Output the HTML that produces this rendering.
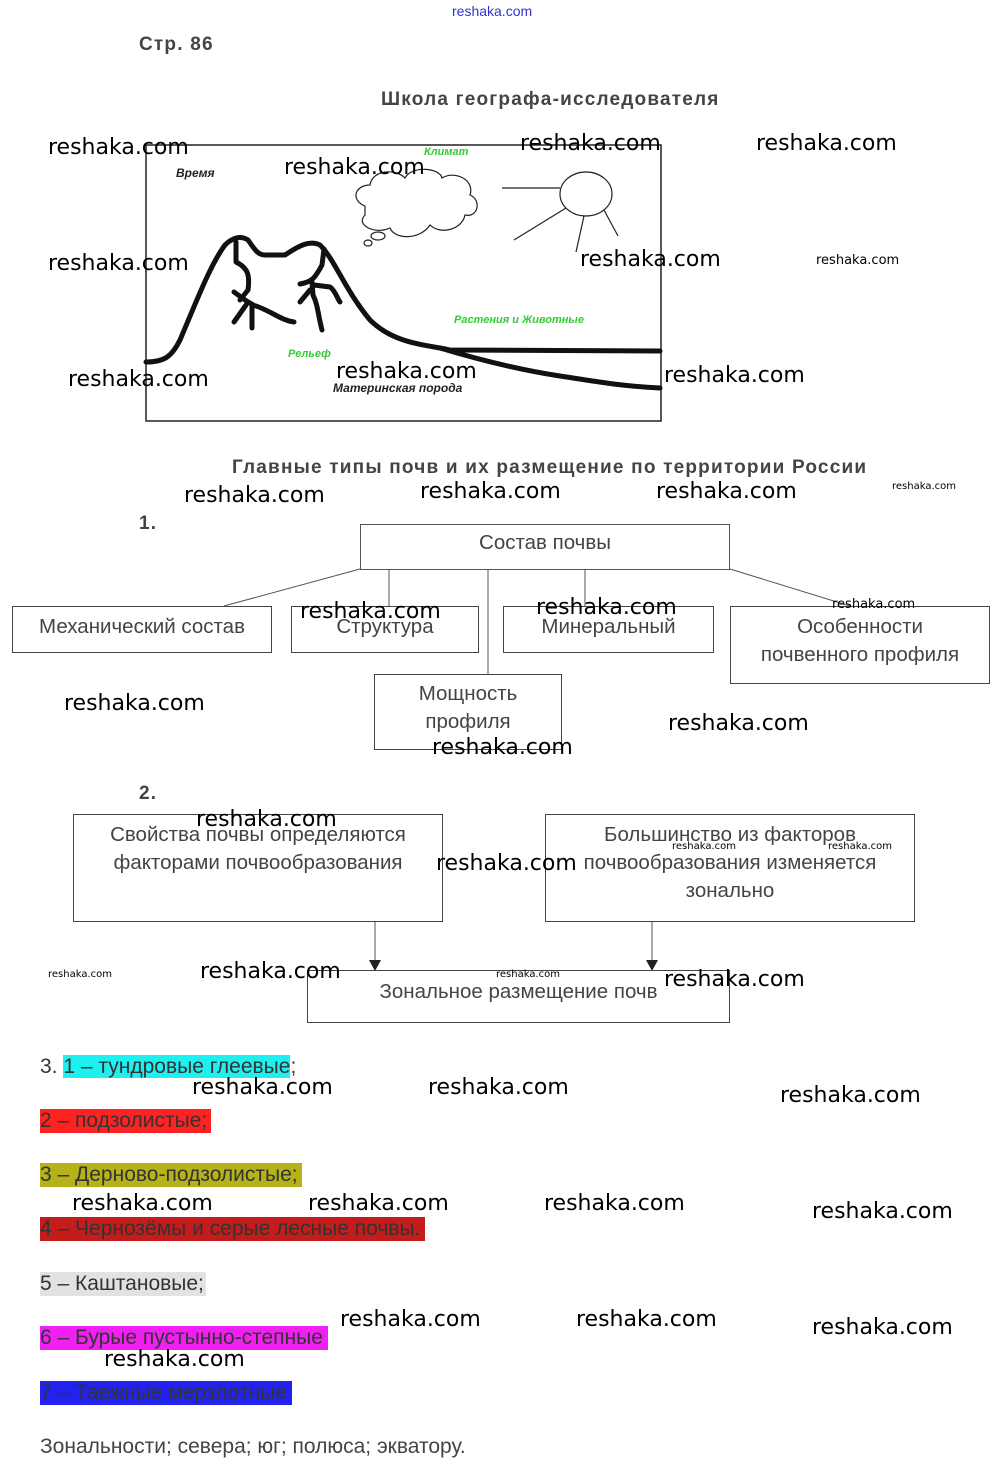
<!DOCTYPE html>
<html><head><meta charset="utf-8"><style>
body{margin:0;background:#fff;}
#p{position:relative;width:1000px;height:1474px;overflow:hidden;font-family:"Liberation Sans","DejaVu Sans",sans-serif;color:#333;}
.a{position:absolute;white-space:nowrap;}
.t{position:absolute;white-space:nowrap;font-size:19px;font-weight:bold;color:#444;letter-spacing:1.2px;}
.w{position:absolute;white-space:nowrap;font-family:"DejaVu Sans","Liberation Sans",sans-serif;font-size:22px;color:#000;line-height:26px;}
.ws{position:absolute;white-space:nowrap;font-family:"DejaVu Sans",sans-serif;font-size:13px;color:#000;line-height:14px;}
.wt{position:absolute;white-space:nowrap;font-family:"DejaVu Sans",sans-serif;font-size:10px;color:#000;line-height:12px;}
.b{position:absolute;border:1px solid #444;box-sizing:border-box;text-align:center;font-size:20.5px;color:#444;line-height:28px;white-space:nowrap;}
.h{position:absolute;font-size:21px;line-height:24px;height:24px;white-space:nowrap;color:#333;}
.g{color:#3c3;font-style:italic;font-weight:bold;font-size:11px;position:absolute;white-space:nowrap;}
.k{color:#222;font-style:italic;font-weight:bold;font-size:12px;position:absolute;white-space:nowrap;}
</style></head><body><div id="p">
<div class="a" style="left:452px;top:3px;font-size:14px;color:#33c;">reshaka.com</div>
<div class="t" style="left:139px;top:34px;">Стр. 86</div>
<div class="t" style="left:381px;top:89px;">Школа географа-исследователя</div>

<svg style="position:absolute;left:0;top:0" width="1000" height="1474">
<rect x="146" y="145" width="515" height="276" fill="none" stroke="#222" stroke-width="1.5"/>
<g fill="none" stroke="#111" stroke-width="5" stroke-linecap="round" stroke-linejoin="round">
<path d="M146,362 C165,362 172,356 180,340 C195,305 210,265 225,245 C232,238 240,235 248,240 C255,250 258,255 265,255 L285,255 C300,245 310,240 320,245 C335,260 345,290 370,320 C395,345 430,345 450,350 L660,351"/>
<path d="M440,348 C480,360 520,370 560,376 C600,382 620,386 660,388"/>
<path d="M236,242 L236,262 C248,268 250,275 248,290 L240,300 M234,292 L245,300 L253,305 C270,310 280,320 294,322 M252,304 L252,328 M246,305 L234,322"/>
<path d="M324,249 L322,265 C315,278 312,282 300,284 M312,282 L313,295 C318,305 318,315 322,330 M310,290 L300,302 M314,285 L330,287 C335,290 338,300 340,302"/>
</g>
<g fill="none" stroke="#222" stroke-width="1.2">
<path d="M365,206 C350,200 355,185 370,185 C372,170 395,168 405,178 C412,165 440,168 442,178 C455,170 475,180 470,195 C482,200 478,218 465,215 C462,230 440,235 430,225 C420,240 395,240 390,228 C375,235 355,225 365,215 Z"/>
<ellipse cx="378" cy="236" rx="7" ry="4"/><ellipse cx="368" cy="243" rx="4" ry="3"/>
<ellipse cx="586" cy="194" rx="26" ry="22"/>
<path d="M560,188 L502,188 M566,208 L514,240 M584,216 L576,252 M604,210 L618,236"/>
</g>
<g stroke="#555" stroke-width="1" fill="none">
<rect x="360.5" y="524.5" width="369" height="45"/>
<path d="M360,569 L224,606 M389,569 L389,606 M488,569 L488,674 M585,569 L585,606 M730,569 L850,606"/>
<path d="M375,922 L375,962 M652,922 L652,962"/>
</g>
<path d="M369,960 L381,960 L375,971 Z M646,960 L658,960 L652,971 Z" fill="#222"/>
</svg>

<div class="k" style="left:176px;top:166px;">Время</div>
<div class="g" style="left:424px;top:146px;">Климат</div>
<div class="g" style="left:454px;top:314px;">Растения и Животные</div>
<div class="g" style="left:288px;top:348px;">Рельеф</div>
<div class="k" style="left:333px;top:381px;">Материнская порода</div>

<div class="t" style="left:232px;top:457px;">Главные типы почв и их размещение по территории России</div>
<div class="t" style="left:139px;top:513px;">1.</div>
<div class="b" style="left:360px;top:524px;width:370px;height:46px;line-height:38px;border:none;">Состав почвы</div>
<div class="b" style="left:12px;top:606px;width:260px;height:47px;line-height:40px;">Механический состав</div>
<div class="b" style="left:291px;top:606px;width:188px;height:47px;line-height:40px;">Структура</div>
<div class="b" style="left:503px;top:606px;width:211px;height:47px;line-height:40px;">Минеральный</div>
<div class="b" style="left:730px;top:606px;width:260px;height:78px;padding-top:6px;">Особенности<br>почвенного профиля</div>
<div class="b" style="left:374px;top:674px;width:188px;height:76px;padding-top:5px;">Мощность<br>профиля</div>

<div class="t" style="left:139px;top:783px;">2.</div>
<div class="b" style="left:73px;top:814px;width:370px;height:108px;padding-top:6px;">Свойства почвы определяются<br>факторами почвообразования</div>
<div class="b" style="left:545px;top:814px;width:370px;height:108px;padding-top:6px;">Большинство из факторов<br>почвообразования изменяется<br>зонально</div>
<div class="b" style="left:307px;top:970px;width:423px;height:53px;line-height:42px;">Зональное размещение почв</div>

<div class="h" style="left:40px;top:1055px;">3. <span style="background:#1ef0f0;">1 – тундровые глеевые</span>;</div>
<div class="h" style="left:40px;top:1109px;background:#f22;width:171px;">2 – подзолистые;</div>
<div class="h" style="left:40px;top:1163px;background:#b5b21a;width:262px;">3 – Дерново-подзолистые;</div>
<div class="h" style="left:40px;top:1217px;background:#c41b1b;width:385px;">4 – Чернозёмы и серые лесные почвы.</div>
<div class="h" style="left:40px;top:1272px;background:#e2e2e2;width:166px;">5 – Каштановые;</div>
<div class="h" style="left:40px;top:1326px;background:#f020f0;width:288px;">6 – Бурые пустынно-степные</div>
<div class="h" style="left:40px;top:1381px;background:#2222ee;width:252px;">7 – Таежные мерзлотные</div>
<div class="h" style="left:40px;top:1435px;color:#444;">Зональности; севера; юг; полюса; экватору.</div>

<div class="w" style="left:48px;top:135px;">reshaka.com</div>
<div class="w" style="left:520px;top:131px;">reshaka.com</div>
<div class="w" style="left:756px;top:131px;">reshaka.com</div>
<div class="w" style="left:284px;top:155px;">reshaka.com</div>
<div class="w" style="left:48px;top:251px;">reshaka.com</div>
<div class="w" style="left:580px;top:247px;">reshaka.com</div>
<div class="ws" style="left:816px;top:254px;">reshaka.com</div>
<div class="w" style="left:68px;top:367px;">reshaka.com</div>
<div class="w" style="left:336px;top:359px;">reshaka.com</div>
<div class="w" style="left:664px;top:363px;">reshaka.com</div>
<div class="w" style="left:184px;top:483px;">reshaka.com</div>
<div class="w" style="left:420px;top:479px;">reshaka.com</div>
<div class="w" style="left:656px;top:479px;">reshaka.com</div>
<div class="wt" style="left:892px;top:481px;">reshaka.com</div>
<div class="w" style="left:300px;top:599px;">reshaka.com</div>
<div class="w" style="left:536px;top:595px;">reshaka.com</div>
<div class="ws" style="left:832px;top:598px;">reshaka.com</div>
<div class="w" style="left:64px;top:691px;">reshaka.com</div>
<div class="w" style="left:668px;top:711px;">reshaka.com</div>
<div class="w" style="left:432px;top:735px;">reshaka.com</div>
<div class="w" style="left:196px;top:807px;">reshaka.com</div>
<div class="wt" style="left:672px;top:841px;">reshaka.com</div>
<div class="wt" style="left:828px;top:841px;">reshaka.com</div>
<div class="w" style="left:436px;top:851px;">reshaka.com</div>
<div class="wt" style="left:48px;top:969px;">reshaka.com</div>
<div class="w" style="left:200px;top:959px;">reshaka.com</div>
<div class="wt" style="left:496px;top:969px;">reshaka.com</div>
<div class="w" style="left:664px;top:967px;">reshaka.com</div>
<div class="w" style="left:192px;top:1075px;">reshaka.com</div>
<div class="w" style="left:428px;top:1075px;">reshaka.com</div>
<div class="w" style="left:780px;top:1083px;">reshaka.com</div>
<div class="w" style="left:72px;top:1191px;">reshaka.com</div>
<div class="w" style="left:308px;top:1191px;">reshaka.com</div>
<div class="w" style="left:544px;top:1191px;">reshaka.com</div>
<div class="w" style="left:812px;top:1199px;">reshaka.com</div>
<div class="w" style="left:340px;top:1307px;">reshaka.com</div>
<div class="w" style="left:576px;top:1307px;">reshaka.com</div>
<div class="w" style="left:812px;top:1315px;">reshaka.com</div>
<div class="w" style="left:104px;top:1347px;">reshaka.com</div>
</div></body></html>
